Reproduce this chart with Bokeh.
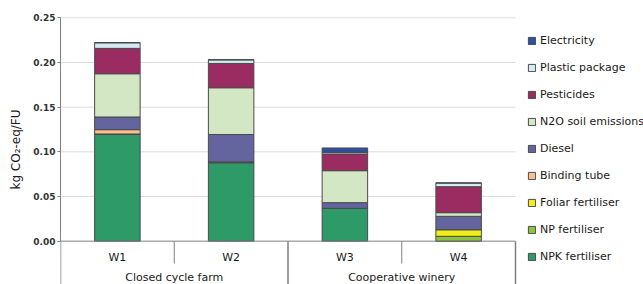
from bokeh.plotting import figure
from bokeh.models import (Range1d, FixedTicker, Legend, LegendItem,
                          ColumnDataSource, NumeralTickFormatter)
from bokeh.core.properties import value
from bokeh.embed import file_html
from bokeh.resources import INLINE

# ---- data ----
categories = ["W1", "W2", "W3", "W4"]
groups = ["Closed cycle farm", "Closed cycle farm", "Cooperative winery", "Cooperative winery"]
npk_fertiliser = [0.1200, 0.0877, 0.0367, 0.0]
np_fertiliser = [0.0, 0.0010, 0.0, 0.0054]
foliar_fertiliser = [0.0, 0.0, 0.0, 0.0075]
binding_tube = [0.0048, 0.0, 0.0, 0.0]
diesel = [0.0142, 0.0307, 0.0064, 0.0149]
n2o_soil = [0.0484, 0.0523, 0.0358, 0.0041]
pesticides = [0.0284, 0.0272, 0.0187, 0.0291]
plastic_package = [0.0063, 0.0041, 0.0018, 0.0041]
electricity = [0.0, 0.0, 0.0049, 0.0]
y_ticks = [0.0, 0.05, 0.10, 0.15, 0.20, 0.25]

series_names = ["NPK fertiliser", "NP fertiliser", "Foliar fertiliser", "Binding tube",
                "Diesel", "N2O soil emissions", "Pesticides", "Plastic package", "Electricity"]
series_values = [npk_fertiliser, np_fertiliser, foliar_fertiliser, binding_tube,
                 diesel, n2o_soil, pesticides, plastic_package, electricity]
series_colors = ["#2e9a68", "#8cc43c", "#f2ee1a", "#f8c08c",
                 "#64649e", "#d3e7c5", "#9a2c62", "#d3ecf3", "#2f4fa2"]

FONT = "DejaVu Sans"
Y_BOTTOM = -0.0485
Y_TOP = 0.2537
n = len(categories)
X_END = n + 128.0 / (455.0 / n)   # extra room on the right for the legend

xpos = [i + 0.5 for i in range(n)]
data = {"x": xpos}
keys = []
for i, (nm, v) in enumerate(zip(series_names, series_values)):
    k = "s%d" % i
    keys.append(k)
    data[k] = v
source = ColumnDataSource(data)

p = figure(width=643, height=284, output_backend="svg", toolbar_location=None,
           x_range=Range1d(0, X_END), y_range=Range1d(Y_BOTTOM, Y_TOP),
           x_axis_location=None, min_border_left=60, min_border_right=0,
           min_border_top=14, min_border_bottom=0)
p.outline_line_color = None
p.background_fill_color = "white"
p.border_fill_color = "white"

# grid (limited to the category area)
p.xgrid.visible = False
p.ygrid.visible = False
grid_y = [t for t in y_ticks if t > 0]
p.segment(x0=[0] * len(grid_y), x1=[n] * len(grid_y), y0=grid_y, y1=grid_y,
          line_color="#dcdcdc", line_width=1)

# y axis
yax = p.yaxis[0]
yax.ticker = FixedTicker(ticks=y_ticks)
yax.formatter = NumeralTickFormatter(format="0.00")
yax.bounds = (0, 0.25)
yax.axis_line_color = "#808080"
yax.major_tick_line_color = "#808080"
yax.major_tick_out = 3
yax.major_tick_in = 0
yax.minor_tick_line_color = None
yax.major_label_standoff = 2
yax.major_label_text_font = FONT
yax.major_label_text_font_size = "9px"
yax.major_label_text_font_style = "bold"
yax.major_label_text_color = "#333333"
yax.axis_label = "kg CO₂-eq/FU"
yax.axis_label_text_font = FONT
yax.axis_label_text_font_size = "12px"
yax.axis_label_text_font_style = "normal"
yax.axis_label_text_color = "#1a1a1a"
yax.axis_label_standoff = 7

# bars
renderers = p.vbar_stack(keys, x="x", width=0.4, source=source,
                         fill_color=series_colors, line_color="#4a4a4a", line_width=1)

# category axis (multi-level box)
p.segment(x0=[0], x1=[n], y0=[0], y1=[0], line_color="#808080", line_width=1)
inner_sep = [i for i in range(1, n) if groups[i] == groups[i - 1]]
group_sep = [i for i in range(0, n + 1) if i == 0 or i == n or groups[i] != groups[i - 1]]
p.segment(x0=inner_sep, x1=inner_sep, y0=[0] * len(inner_sep), y1=[-0.025] * len(inner_sep),
          line_color="#808080", line_width=1)
p.segment(x0=group_sep, x1=group_sep, y0=[0] * len(group_sep), y1=[Y_BOTTOM] * len(group_sep),
          line_color="#808080", line_width=1.5)
p.text(x=xpos, y=[-0.018] * n, text=categories, text_font=value(FONT),
       text_font_size="11px", text_align="center", text_baseline="middle", text_color="#1a1a1a")
uniq = []
for g in groups:
    if g not in uniq:
        uniq.append(g)
gx = [sum(xpos[i] for i in range(n) if groups[i] == g) / groups.count(g) for g in uniq]
p.text(x=gx, y=[-0.0405] * len(uniq), text=uniq, text_font=value(FONT),
       text_font_size="11px", text_align="center", text_baseline="middle", text_color="#1a1a1a")

# legend
items = [LegendItem(label=nm, renderers=[r]) for nm, r in zip(series_names, renderers)][::-1]
legend = Legend(items=items, location=(467, 21), orientation="vertical")
legend.glyph_width = 9
legend.glyph_height = 9
legend.label_height = 13
legend.spacing = 14
legend.label_standoff = 4
legend.padding = 0
legend.margin = 0
legend.border_line_color = None
legend.background_fill_alpha = 0
legend.label_text_font = FONT
legend.label_text_font_size = "11px"
legend.label_text_color = "#1a1a1a"
p.add_layout(legend, "center")

open("out.html", "w").write(file_html(p, INLINE))
